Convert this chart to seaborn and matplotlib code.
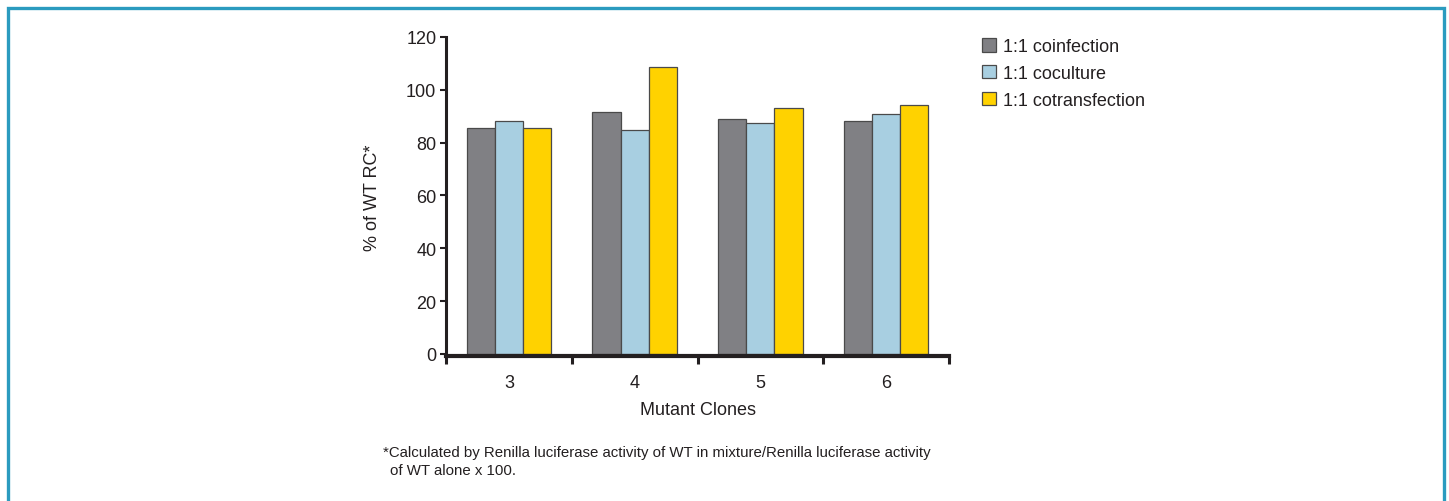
import matplotlib
matplotlib.use("Agg")
import matplotlib.pyplot as plt
import matplotlib.patches as mpatches
import seaborn as sns
import pandas as pd
import numpy as np

clones = ["3", "4", "5", "6"]
series = ["1:1 coinfection", "1:1 coculture", "1:1 cotransfection"]
coinfection = [85.6, 91.5, 89.1, 88.2]
coculture = [88.2, 84.8, 87.3, 90.7]
cotransfection = [85.6, 108.5, 93.2, 94.1]
colors = ["#808084", "#a8cfe1", "#ffd200"]

sns.set_theme(style="white")
plt.rcParams["font.family"] = ["Liberation Sans", "DejaVu Sans"]

df = pd.DataFrame({
    "clone": clones * 3,
    "series": np.repeat(series, len(clones)),
    "value": coinfection + coculture + cotransfection,
})

fig = plt.figure(figsize=(14.49, 5.02), dpi=100)
ax = fig.add_axes([446 / 1449, 1 - 357 / 502, (949 - 446) / 1449, (357 - 38) / 502])

sns.barplot(data=df, x="clone", y="value", hue="series", order=clones, hue_order=series,
            palette=colors, width=0.67, gap=0, edgecolor="#4a4a4a", linewidth=0.9,
            saturation=1, ax=ax, errorbar=None)

ax.set_ylim(-0.8, 120)
ax.set_xlim(-0.5, 3.5)
ax.set_yticks(range(0, 121, 20))
ax.tick_params(axis="y", direction="out", length=4, width=1.5, color="#231f20",
               labelsize=13, labelcolor="#231f20", pad=3, left=True)
ax.set_xticks(range(len(clones)))
ax.set_xticklabels(clones)
ax.tick_params(axis="x", which="major", length=0, labelsize=13, labelcolor="#231f20", pad=13)
ax.set_xticks(np.arange(-0.5, len(clones), 1.0), minor=True)
ax.tick_params(axis="x", which="minor", direction="out", length=6, width=2.2, color="#231f20", bottom=True)

for side in ["top", "right"]:
    ax.spines[side].set_visible(False)
ax.spines["left"].set_linewidth(2.2)
ax.spines["left"].set_color("#231f20")
ax.spines["bottom"].set_linewidth(3)
ax.spines["bottom"].set_color("#231f20")

ax.set_xlabel("Mutant Clones", fontsize=13, color="#231f20", labelpad=7)
ax.set_ylabel("% of WT RC*", fontsize=13, color="#231f20", labelpad=18)

handles, labels = ax.get_legend_handles_labels()
ax.get_legend().remove()
fig.legend(handles, labels, loc="upper left", bbox_to_anchor=(966 / 1449, 1 - 23 / 502),
           frameon=False, fontsize=13, handlelength=0.75, handleheight=0.75,
           handletextpad=0.4, labelspacing=0.55, labelcolor="#231f20")

fig.text(383 / 1449, 1 - 453 / 502, "*Calculated by Renilla luciferase activity of WT in mixture/Renilla luciferase activity",
         fontsize=10.8, color="#231f20", va="center")
fig.text(390 / 1449, 1 - 471 / 502, "of WT alone x 100.", fontsize=10.8, color="#231f20", va="center")

fig.patches.append(mpatches.Rectangle((7.5 / 1449, -0.1), (1444 - 7.5) / 1449, 1.1 - 8.5 / 502,
                                      transform=fig.transFigure, fill=False,
                                      edgecolor="#2b9bbf", linewidth=2.4))

fig.savefig("out.png", dpi=100)
